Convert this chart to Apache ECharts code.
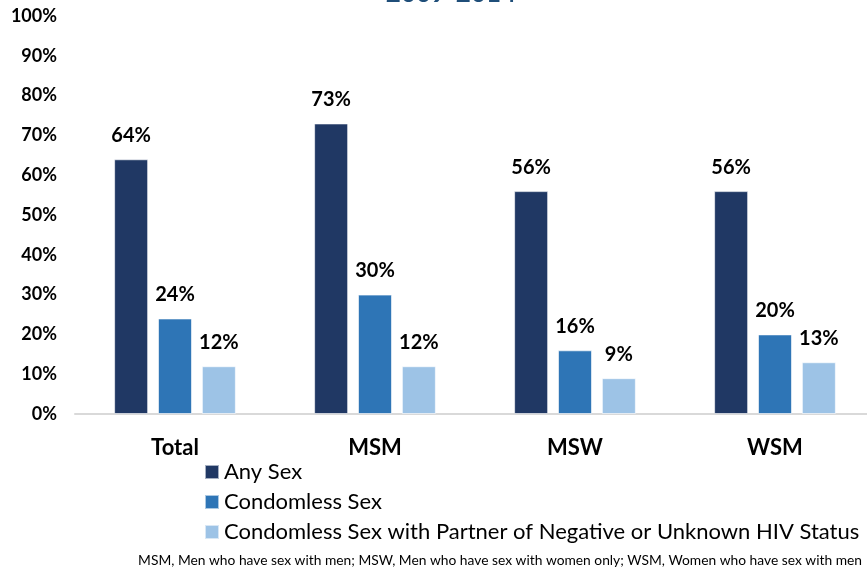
<!DOCTYPE html>
<html>
<head>
<meta charset="utf-8">
<script src="https://cdn.jsdelivr.net/npm/echarts@6/dist/echarts.min.js"></script>
<style>
html,body{margin:0;padding:0;background:#fff;}
#chart{width:867px;height:573px;}
</style>
</head>
<body>
<div id="chart"></div>
<script>
const titleText = '2009-2014';
const categories = ['Total', 'MSM', 'MSW', 'WSM'];
const seriesNames = ['Any Sex', 'Condomless Sex', 'Condomless Sex with Partner of Negative or Unknown HIV Status'];
const anySex = [64, 73, 56, 56];
const condomless = [24, 30, 16, 20];
const condomlessNegUnknown = [12, 12, 9, 13];
const yTicks = [0, 10, 20, 30, 40, 50, 60, 70, 80, 90, 100];
const footnote = 'MSM, Men who have sex with men; MSW, Men who have sex with women only; WSM, Women who have sex with men';

const colors = ['#203864', '#2E75B6', '#9DC3E6'];
const FONT = 'Lato, "Open Sans", sans-serif';

const chart = echarts.init(document.getElementById('chart'), null, {renderer: 'canvas'});

function makeSeries(name, data, color) {
  return {
    name: name,
    type: 'bar',
    data: data,
    barWidth: 34,
    barGap: '29%',
    itemStyle: {color: color, borderColor: 'rgba(255,255,255,0.6)', borderWidth: 1},
    label: {
      show: true,
      position: 'top',
      distance: 14,
      formatter: p => p.value + '%',
      color: '#000',
      fontFamily: FONT,
      fontWeight: 'bold',
      fontSize: 20
    }
  };
}

chart.setOption({
  animation: false,
  textStyle: {fontFamily: FONT},
  grid: {left: 75, top: 16, width: 800, height: 398, containLabel: false, outerBoundsMode: 'none'},
  legend: {
    orient: 'vertical',
    left: 199,
    top: 456,
    itemWidth: 14,
    itemHeight: 14,
    itemGap: 8,
    icon: 'rect',
    data: seriesNames,
    textStyle: {fontFamily: FONT, fontSize: 22, color: '#000', padding: [0, 0, 0, 0]}
  },
  xAxis: {
    type: 'category',
    data: categories,
    axisLine: {lineStyle: {color: '#d9d9d9', width: 2}},
    axisTick: {show: false},
    axisLabel: {color: '#000', fontFamily: FONT, fontWeight: 'bold', fontSize: 22, margin: 23}
  },
  yAxis: {
    type: 'value',
    min: 0,
    max: 100,
    interval: 10,
    splitLine: {show: false},
    axisLine: {show: false},
    axisTick: {show: false},
    axisLabel: {
      color: '#000', fontFamily: FONT, fontWeight: 'bold', fontSize: 18, margin: 18,
      formatter: v => yTicks.includes(v) ? v + '%' : ''
    }
  },
  series: [
    makeSeries(seriesNames[0], anySex, colors[0]),
    makeSeries(seriesNames[1], condomless, colors[1]),
    makeSeries(seriesNames[2], condomlessNegUnknown, colors[2])
  ],
  graphic: [
    {
      type: 'text', x: 451, y: 7,
      style: {text: titleText, fontFamily: FONT, fontWeight: 'bold', fontSize: 26, fill: '#1F4E79', align: 'center', verticalAlign: 'bottom'}
    },
    {
      type: 'text', right: 5, top: 554,
      style: {text: footnote, fontFamily: FONT, fontSize: 13.8, fill: '#000'}
    }
  ]
});
</script>
</body>
</html>
